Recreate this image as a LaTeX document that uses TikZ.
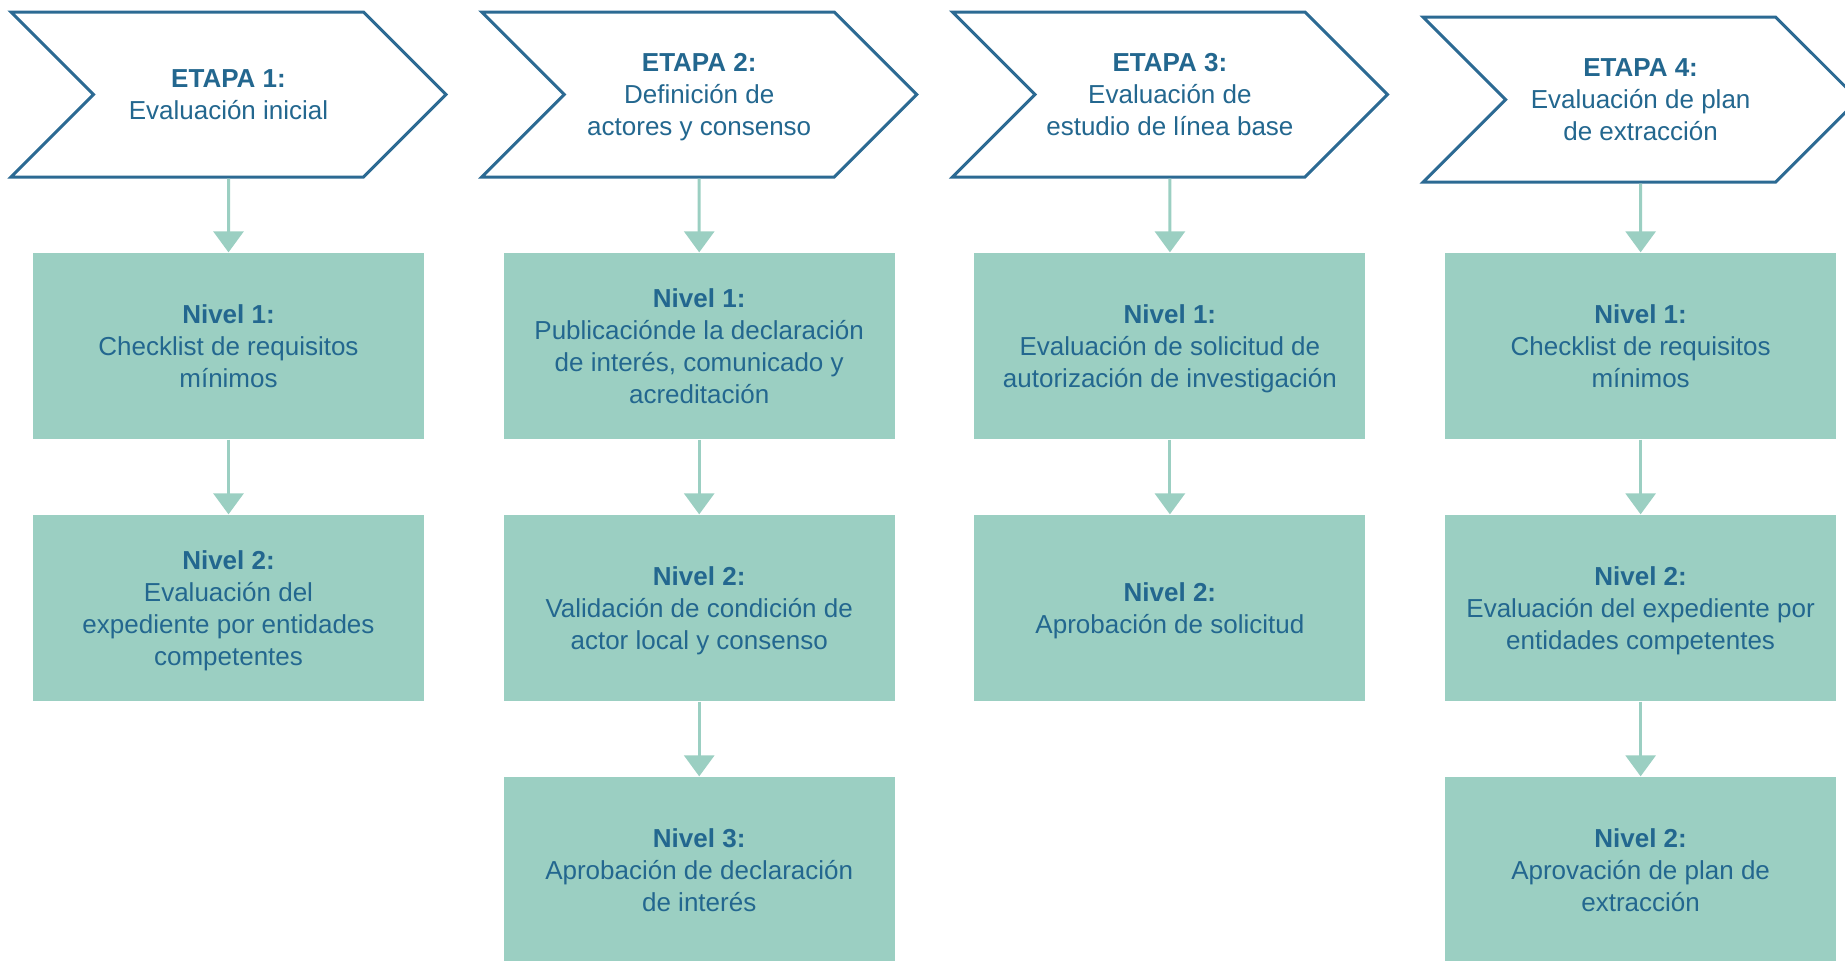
\documentclass[tikz,border=0pt]{standalone}
\usepackage{fontspec}
\setmainfont{Liberation Sans}
\usepackage{xcolor}
\usepackage{tikz}
\usetikzlibrary{shapes,arrows,positioning,arrows.meta}

\definecolor{etapaline}{HTML}{2C6A93}
\definecolor{niveltext}{HTML}{23678F}
\definecolor{nivelfill}{HTML}{9BCFC2}

\begin{document}
\begin{tikzpicture}[etapa block/.style={signal, signal to=east, signal from=west, signal pointer angle=90, draw=etapaline, line width=1.5pt, fill=white, minimum width=217.5pt, minimum height=82.5pt, align=center, text depth=-1pt, text=niveltext, font=\fontsize{13}{16}\selectfont}, nivel block/.style={rectangle, fill=nivelfill, minimum width=195.5pt, minimum height=93.25pt, align=center, text depth=-1pt, text=niveltext, font=\fontsize{13}{16}\selectfont}, flow/.style={-{Triangle[width=15pt,length=10.5pt]}, draw=nivelfill, line width=1.5pt}, node distance=235.35pt]
    \useasboundingbox (0,0) rectangle (922.5pt,-480pt);

    \node[etapa block] (e1) at (114.25pt,-47.25pt) {\textbf{ETAPA 1:}\\Evaluación inicial};
    \node[etapa block, right of=e1] (e2) {\textbf{ETAPA 2:}\\Definición de\\actores y consenso};
    \node[etapa block, right of=e2] (e3) {\textbf{ETAPA 3:}\\Evaluación de\\estudio de línea base};
    \node[etapa block, right of=e3, yshift=-2.5pt] (e4) {\textbf{ETAPA 4:}\\Evaluación de plan\\de extracción};

    \node[nivel block, below of=e1, node distance=125.75pt] (n11) {\textbf{Nivel 1:}\\Checklist de requisitos\\mínimos};
    \node[nivel block, right of=n11] (n21) {\textbf{Nivel 1:}\\Publicaciónde la declaración\\de interés, comunicado y\\acreditación};
    \node[nivel block, right of=n21] (n31) {\textbf{Nivel 1:}\\Evaluación de solicitud de\\autorización de investigación};
    \node[nivel block, right of=n31] (n41) {\textbf{Nivel 1:}\\Checklist de requisitos\\mínimos};

    \node[nivel block, below of=n11, node distance=131pt] (n12) {\textbf{Nivel 2:}\\Evaluación del\\expediente por entidades\\competentes};
    \node[nivel block, below of=n21, node distance=131pt] (n22) {\textbf{Nivel 2:}\\Validación de condición de\\actor local y consenso};
    \node[nivel block, below of=n31, node distance=131pt] (n32) {\textbf{Nivel 2:}\\Aprobación de solicitud};
    \node[nivel block, below of=n41, node distance=131pt] (n42) {\textbf{Nivel 2:}\\Evaluación del expediente por\\entidades competentes};

    \node[nivel block, below of=n22, node distance=131pt] (n23) {\textbf{Nivel 3:}\\Aprobación de declaración\\de interés};
    \node[nivel block, below of=n42, node distance=131pt] (n43) {\textbf{Nivel 2:}\\Aprovación de plan de\\extracción};

    \draw[flow] (e1) -- (n11);
    \draw[flow] (n11) -- (n12);
    \draw[flow] (e2) -- (n21);
    \draw[flow] (n21) -- (n22);
    \draw[flow] (n22) -- (n23);
    \draw[flow] (e3) -- (n31);
    \draw[flow] (n31) -- (n32);
    \draw[flow] (e4) -- (n41);
    \draw[flow] (n41) -- (n42);
    \draw[flow] (n42) -- (n43);
\end{tikzpicture}
\end{document}
